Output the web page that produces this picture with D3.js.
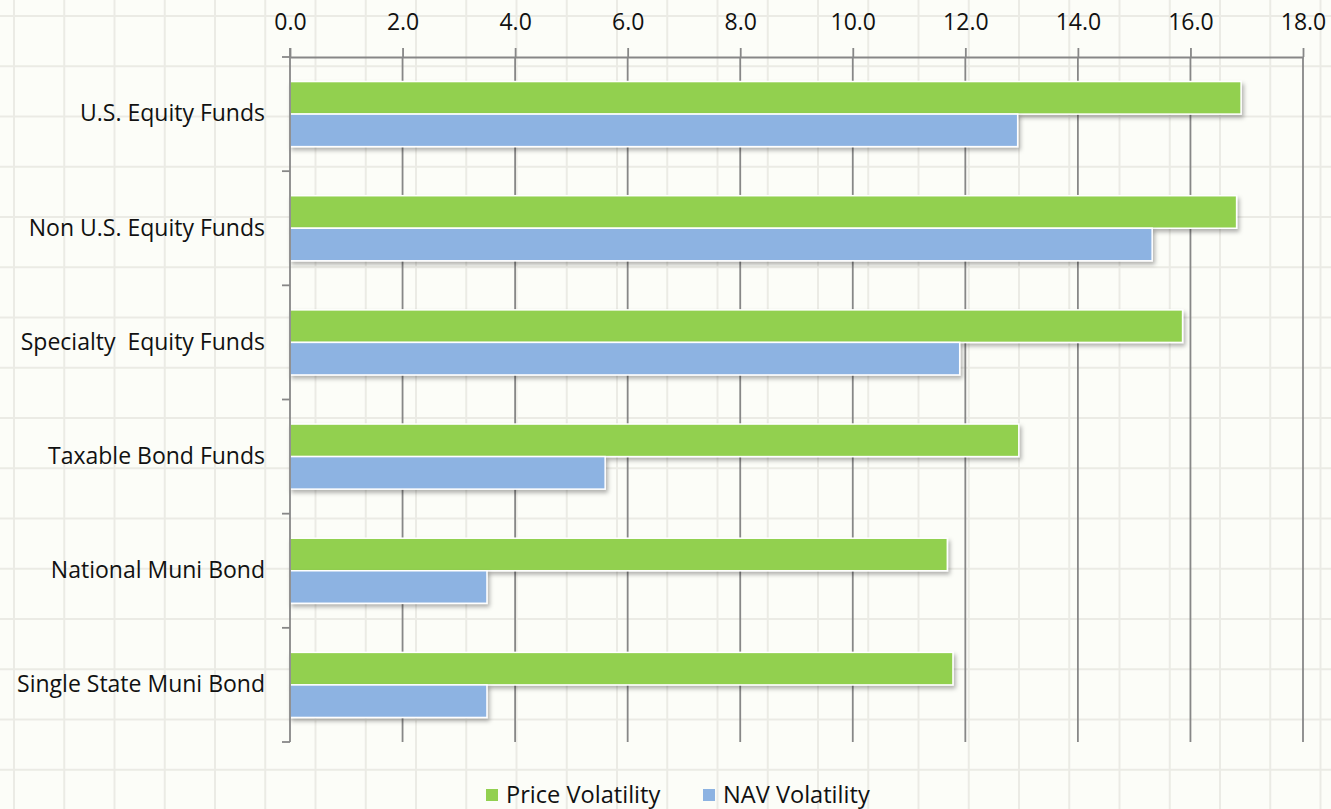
<!DOCTYPE html>
<html>
<head>
<meta charset="utf-8">
<script src="https://cdn.jsdelivr.net/npm/d3@7"></script>
<style>
  html, body { margin: 0; padding: 0; background: #fcfdf8; }
  svg { display: block; }
  text { font-family: "Open Sans", "Noto Sans", sans-serif; fill: #111; white-space: pre; }
</style>
</head>
<body>
<svg id="chart" width="1331" height="809"></svg>
<script>
// Fund categories, top to bottom
const categories = [
  "U.S. Equity Funds",
  "Non U.S. Equity Funds",
  "Specialty  Equity Funds",
  "Taxable Bond Funds",
  "National Muni Bond",
  "Single State Muni Bond"
];
const seriesNames = ["Price Volatility", "NAV Volatility"];
const priceVolatility = [16.9, 16.82, 15.86, 12.95, 11.68, 11.78];
const navVolatility = [12.93, 15.32, 11.9, 5.6, 3.5, 3.5];
const xTicks = [0, 2, 4, 6, 8, 10, 12, 14, 16, 18];
const seriesColors = ["#92d050", "#8db3e2"];

const W = 1331, H = 809;
const svg = d3.select("#chart");
const fontSize = 23;
const legendFontSize = 23.6;

// Graph-paper backdrop
const paper = svg.append("g").attr("class", "paper");
paper.append("rect").attr("width", W).attr("height", H).attr("fill", "#fcfdf8");
const step = 50.25;
paper.selectAll("line.v").data(d3.range(14, W, step)).join("line")
  .attr("class", "v").attr("x1", d => d).attr("x2", d => d)
  .attr("y1", 0).attr("y2", H)
  .attr("stroke", "#ebebe5").attr("stroke-width", 2);
paper.selectAll("line.h").data(d3.range(16, H, step)).join("line")
  .attr("class", "h").attr("y1", d => d).attr("y2", d => d)
  .attr("x1", 0).attr("x2", W)
  .attr("stroke", "#ebebe5").attr("stroke-width", 2);

// Scales
const x = d3.scaleLinear().domain([0, 18]).range([290, 1303]);
const y = d3.scaleBand().domain(categories).range([57, 742])
  .paddingInner(0.43).paddingOuter(0.215);
const ySeries = d3.scaleBand().domain(seriesNames).range([0, y.bandwidth()]);

const defs = svg.append("defs");
const shadow = defs.append("filter").attr("id", "barShadow")
  .attr("x", "-5%").attr("y", "-30%").attr("width", "115%").attr("height", "180%");
shadow.append("feDropShadow").attr("dx", 2).attr("dy", 3)
  .attr("stdDeviation", 2).attr("flood-color", "#000").attr("flood-opacity", 0.3);

// Vertical gridlines
svg.append("g").selectAll("line").data(xTicks.slice(1)).join("line")
  .attr("x1", d => x(d)).attr("x2", d => x(d))
  .attr("y1", 57).attr("y2", 742)
  .attr("stroke", "#878787").attr("stroke-width", 1.8);

// Bars
const rows = categories.map((c, i) => ({
  category: c,
  values: [
    { series: seriesNames[0], value: priceVolatility[i], color: seriesColors[0] },
    { series: seriesNames[1], value: navVolatility[i], color: seriesColors[1] }
  ]
}));
const groups = svg.append("g").selectAll("g").data(rows).join("g")
  .attr("transform", d => `translate(0,${y(d.category)})`);
groups.selectAll("rect").data(d => d.values).join("rect")
  .attr("x", x(0))
  .attr("y", d => ySeries(d.series))
  .attr("width", d => x(d.value) - x(0))
  .attr("height", ySeries.bandwidth())
  .attr("fill", d => d.color)
  .attr("stroke", "#ffffff")
  .attr("stroke-width", 1.5)
  .attr("filter", "url(#barShadow)");

// Top value axis
const xAxis = svg.append("g").attr("transform", "translate(0,57)")
  .call(d3.axisTop(x).tickValues(xTicks).tickFormat(d3.format(".1f"))
    .tickSize(9).tickPadding(18).tickSizeOuter(0));
xAxis.select(".domain").attr("stroke", "#878787").attr("stroke-width", 1.8);
xAxis.selectAll(".tick line").attr("stroke", "#878787").attr("stroke-width", 1.8);
xAxis.selectAll(".tick text").attr("font-size", fontSize).attr("fill", "#111")
  .style("font-family", "'Open Sans', sans-serif");

// Left category axis: labels centred on bands, ticks on band boundaries
const yAxis = svg.append("g").attr("transform", "translate(290,0)")
  .call(d3.axisLeft(y).tickSize(0).tickPadding(25));
yAxis.select(".domain").remove();
yAxis.selectAll(".tick text").attr("font-size", fontSize).attr("fill", "#111")
  .attr("xml:space", "preserve")
  .style("font-family", "'Open Sans', sans-serif");

const boundaries = d3.range(categories.length + 1).map(i => 57 + i * y.step());
const catAxis = svg.append("g");
catAxis.append("line").attr("x1", 290).attr("x2", 290).attr("y1", 48).attr("y2", 742)
  .attr("stroke", "#878787").attr("stroke-width", 1.8);
catAxis.selectAll("line.tk").data(boundaries).join("line").attr("class", "tk")
  .attr("x1", 282).attr("x2", 290).attr("y1", d => d).attr("y2", d => d)
  .attr("stroke", "#878787").attr("stroke-width", 1.8);

// Legend
const legendX = [486, 703];
const legend = svg.append("g").selectAll("g").data(seriesNames).join("g")
  .attr("transform", (d, i) => `translate(${legendX[i]},789)`);
legend.append("rect").attr("width", 12).attr("height", 12)
  .attr("fill", (d, i) => seriesColors[i]);
legend.append("text").attr("x", 20).attr("y", 14)
  .attr("font-size", legendFontSize).text(d => d);
</script>
</body>
</html>
